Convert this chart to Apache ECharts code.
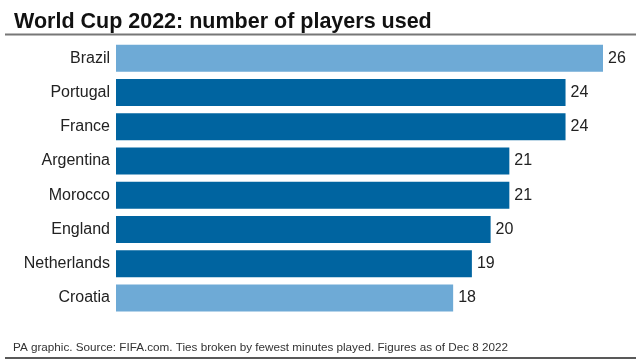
<!DOCTYPE html>
<html><head><meta charset="utf-8">
<script src="https://cdn.jsdelivr.net/npm/echarts@6/dist/echarts.min.js"></script>
<style>html,body{margin:0;padding:0;background:#fff}#c{width:640px;height:360px}</style>
</head><body><div id="c"></div>
<script>
const categories = ["Brazil","Portugal","France","Argentina","Morocco","England","Netherlands","Croatia"];
const values = [26,24,24,21,21,20,19,18];
const highlighted = ["Brazil","Croatia"];
const titleText = "World Cup 2022: number of players used";
const footerText = "PA graphic. Source: FIFA.com. Ties broken by fewest minutes played. Figures as of Dec 8 2022";

const LIGHT = "#6eaad6", DARK = "#0064a0";
const chart = echarts.init(document.getElementById('c'), null, {renderer:'canvas'});
chart.setOption({
  animation:false,
  backgroundColor:'#fff',
  title:[{text:titleText,left:9,top:6,textStyle:{fontFamily:'Liberation Sans',fontWeight:'bold',fontSize:21.5,color:'#111'}},
         {text:footerText,left:8,top:337,textStyle:{fontFamily:'Liberation Sans',fontWeight:'normal',fontSize:11.7,color:'#333'}}],
  graphic:[
    {type:'line',shape:{x1:5,y1:34.5,x2:636,y2:34.5},style:{stroke:'#777',lineWidth:1.8}},
    {type:'line',shape:{x1:5,y1:358,x2:636,y2:358},style:{stroke:'#222',lineWidth:1.5}}
  ],
  grid:{left:116,right:37,top:41,bottom:45},
  xAxis:{type:'value',min:0,max:26,show:false},
  yAxis:{type:'category',data:categories,inverse:true,
    axisLine:{show:false},axisTick:{show:false},
    axisLabel:{fontFamily:'Liberation Sans',fontSize:16,color:'#222',margin:6}},
  series:[{type:'bar',barWidth:27,
    data:values.map((v,i)=>({value:v,itemStyle:{color:highlighted.includes(categories[i])?LIGHT:DARK}})),
    label:{show:true,position:'right',distance:5,fontFamily:'Liberation Sans',fontSize:16,color:'#222'}}]
});
</script></body></html>
